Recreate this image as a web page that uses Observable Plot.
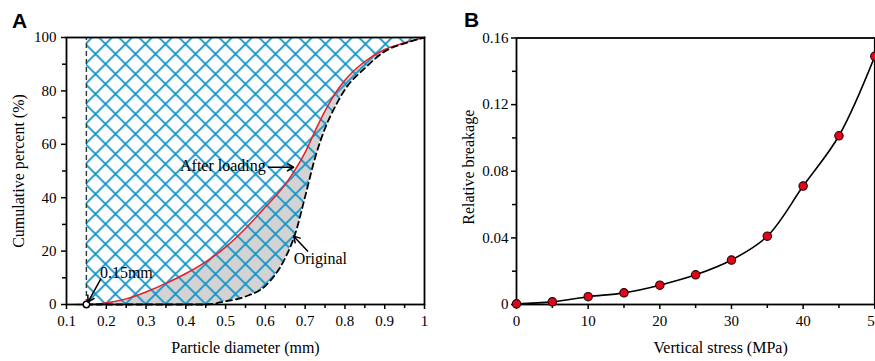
<!DOCTYPE html>
<html>
<head>
<meta charset="utf-8">
<script src="https://cdn.jsdelivr.net/npm/d3@7"></script>
<script src="https://cdn.jsdelivr.net/npm/@observablehq/plot@0.6"></script>
<style>
  html, body { margin: 0; padding: 0; background: white; overflow: hidden; }
  #wrap { position: relative; width: 875px; height: 361px; overflow: hidden; background: white; }
  #wrap svg, #wrap svg text { font-family: "Liberation Serif", "Times New Roman", Times, serif !important; }
  .panel { position: absolute; top: 0; }
  .letter { position: absolute; font-family: "Liberation Sans", Arial, sans-serif; font-weight: bold; font-size: 21px; line-height: 1; }
</style>
</head>
<body>
<div id="wrap">
  <div id="pa" class="panel" style="left:0px"></div>
  <div id="pb" class="panel" style="left:440px"></div>
  <div class="letter" style="left:12px; top:10px">A</div>
  <div class="letter" style="left:464px; top:9px">B</div>
</div>
<script>
// ---------- Panel A data ----------
const diameter     = [0.15, 0.2, 0.25, 0.3, 0.35, 0.4, 0.45, 0.5, 0.55, 0.6, 0.65, 0.675, 0.7, 0.725, 0.75, 0.775, 0.8, 0.85, 0.9, 0.95, 1.0];
const original     = [0, 0, 0, 0, 0, 0, 0, 1.2, 3, 7, 17.5, 26.5, 40.5, 55, 66, 74, 80.5, 88.5, 94.8, 97.8, 100];
const afterLoading = [0, 0.6, 2.1, 4.7, 7.9, 11.6, 16, 21.5, 28.5, 36.5, 45, 50.5, 57, 65, 72.5, 79, 84, 91, 95.5, 98, 100];
const loadingStart = 0.125;           // red curve starts at this diameter (0 %)
const cutoff = 0.15;                  // 0.15 mm boundary
const xTicksA = [0.1, 0.2, 0.3, 0.4, 0.5, 0.6, 0.7, 0.8, 0.9, 1];
const xMinorA = [0.15, 0.25, 0.35, 0.45, 0.55, 0.65, 0.75, 0.85, 0.95];
const yTicksA = [0, 20, 40, 60, 80, 100];
const yMinorA = [10, 30, 50, 70, 90];
const labelsA = ["After loading", "Original", "0.15mm"];
const labelX  = [0.601, 0.671, 0.184];
const labelY  = [52, 17.2, 11.7];
const labelAnchor = ["end", "start", "start"];
const arrowX1 = [0.608, 0.706, 0.186];
const arrowY1 = [51.4, 20, 9.5];
const arrowX2 = [0.671, 0.671, 0.154];
const arrowY2 = [51.4, 25.6, 0.9];

// ---------- Panel B data ----------
const stress   = [0, 5, 10, 15, 20, 25, 30, 35, 40, 45, 50];
const breakage = [0.0004, 0.0016, 0.0047, 0.007, 0.0116, 0.0178, 0.0267, 0.041, 0.0711, 0.1013, 0.149];
const xTicksB = [0, 10, 20, 30, 40, 50];
const xMinorB = [5, 15, 25, 35, 45];
const yTicksB = [0, 0.04, 0.08, 0.12, 0.16];
const yMinorB = [0.02, 0.06, 0.10, 0.14];

const serif = "Liberation Serif";
const fmt = d3.format("~g");
const rowsA = diameter.map((d, i) => ({d, o: original[i], a: afterLoading[i]}));
const redRows = [{d: loadingStart, a: 0}, ...rowsA];
const notes = labelsA.map((t, i) => ({t, x: labelX[i], y: labelY[i], anchor: labelAnchor[i]}));
const arrows = arrowX1.map((x1, i) => ({x1, y1: arrowY1[i], x2: arrowX2[i], y2: arrowY2[i]}));

const hatchColor = "#1094c8";

const plotA = Plot.plot({
  width: 440, height: 361,
  marginLeft: 66, marginRight: 16, marginTop: 37, marginBottom: 57,
  style: {fontFamily: serif, fontSize: "15px", color: "black", background: "white"},
  x: {domain: [0.1, 1]},
  y: {domain: [0, 100]},
  marks: [
    Plot.areaY(rowsA, {x: "d", y1: "o", y2: "a", fill: "#d3d3d3", curve: "monotone-x"}),
    Plot.areaY(rowsA, {x: "d", y1: "o", y2: () => 100, fill: "url(#hatchA)", curve: "monotone-x"}),
    Plot.ruleX([cutoff], {y1: 0, y2: 100, stroke: "#333", strokeWidth: 1.4, strokeDasharray: "5,3"}),
    Plot.line(redRows, {x: "d", y: "a", stroke: "#e8202a", strokeWidth: 1.5, curve: "monotone-x"}),
    Plot.line(rowsA, {x: "d", y: "o", stroke: "black", strokeWidth: 1.8, strokeDasharray: "6,4", curve: "monotone-x"}),
    Plot.axisX(xMinorA, {tickSize: 4, strokeWidth: 1.5, tickFormat: () => "", label: null}),
    Plot.axisY(yMinorA, {tickSize: 4, strokeWidth: 1.5, tickFormat: () => "", label: null}),
    Plot.axisX(xTicksA, {tickSize: 5, tickPadding: 6, strokeWidth: 1.5, tickFormat: fmt, label: null, fontSize: 15, fontFamily: serif}),
    Plot.axisY(yTicksA, {tickSize: 5, tickPadding: 5, strokeWidth: 1.5, tickFormat: fmt, label: null, fontSize: 15, fontFamily: serif}),
    Plot.frame({stroke: "black", strokeWidth: 1.8}),
    Plot.dot([{d: cutoff, v: 0}], {x: "d", y: "v", r: 3.2, stroke: "black", strokeWidth: 1.4, fill: "white"}),
    Plot.arrow(arrows, {x1: "x1", y1: "y1", x2: "x2", y2: "y2", stroke: "black", strokeWidth: 1.5, headLength: 7, bend: 0}),
    Plot.text(notes.filter(n => n.anchor === "end"), {x: "x", y: "y", text: "t", textAnchor: "end", fontSize: 16, fontFamily: serif, fill: "black"}),
    Plot.text(notes.filter(n => n.anchor === "start"), {x: "x", y: "y", text: "t", textAnchor: "start", fontSize: 16, fontFamily: serif, fill: "black"}),
    Plot.text(["Particle diameter (mm)"], {frameAnchor: "bottom", textAnchor: "middle", lineAnchor: "middle", dy: 43, fontSize: 16, fontFamily: serif}),
    Plot.text(["Cumulative percent (%)"], {frameAnchor: "left", textAnchor: "middle", lineAnchor: "middle", dx: -48, rotate: -90, fontSize: 16, fontFamily: serif})
  ]
});

// hatch pattern definition
const defs = d3.select(plotA).insert("defs", ":first-child");
const pat = defs.append("pattern")
  .attr("id", "hatchA").attr("patternUnits", "userSpaceOnUse")
  .attr("width", 20).attr("height", 20)
  .attr("patternTransform", "translate(5.5,4)");
pat.append("path")
  .attr("d", "M-5,5L5,-5M0,20L20,0M15,25L25,15M-5,15L5,25M0,0L20,20M15,-5L25,5")
  .attr("stroke", hatchColor).attr("stroke-width", 1.8).attr("fill", "none");

document.getElementById("pa").appendChild(plotA);

const rowsB = stress.map((s, i) => ({s, b: breakage[i]}));
const plotB = Plot.plot({
  width: 435, height: 361,
  marginLeft: 76, marginRight: 0.7, marginTop: 37.5, marginBottom: 57,
  style: {fontFamily: serif, fontSize: "15px", color: "black", background: "white", overflow: "visible"},
  x: {domain: [0, 50]},
  y: {domain: [0, 0.16]},
  marks: [
    Plot.axisX(xMinorB, {tickSize: 4, strokeWidth: 1.5, tickFormat: () => "", label: null}),
    Plot.axisY(yMinorB, {tickSize: 4, strokeWidth: 1.5, tickFormat: () => "", label: null}),
    Plot.axisX(xTicksB, {tickSize: 5, tickPadding: 6, strokeWidth: 1.5, tickFormat: fmt, label: null, fontSize: 15, fontFamily: serif}),
    Plot.axisY(yTicksB, {tickSize: 5, tickPadding: 3, strokeWidth: 1.5, tickFormat: fmt, label: null, fontSize: 15, fontFamily: serif}),
    Plot.frame({stroke: "black", strokeWidth: 1.8}),
    Plot.line(rowsB, {x: "s", y: "b", stroke: "black", strokeWidth: 1.6, curve: "catmull-rom"}),
    Plot.dot(rowsB, {x: "s", y: "b", r: 4.2, fill: "#e0061c", stroke: "#2a0000", strokeWidth: 1.1}),
    Plot.text(["Vertical stress (MPa)"], {frameAnchor: "bottom", textAnchor: "middle", lineAnchor: "middle", dx: 25, dy: 43, fontSize: 16, fontFamily: serif}),
    Plot.text(["Relative breakage"], {frameAnchor: "left", textAnchor: "middle", lineAnchor: "middle", dx: -48, dy: -4, rotate: -90, fontSize: 16, fontFamily: serif})
  ]
});
document.getElementById("pb").appendChild(plotB);
</script>
</body>
</html>
